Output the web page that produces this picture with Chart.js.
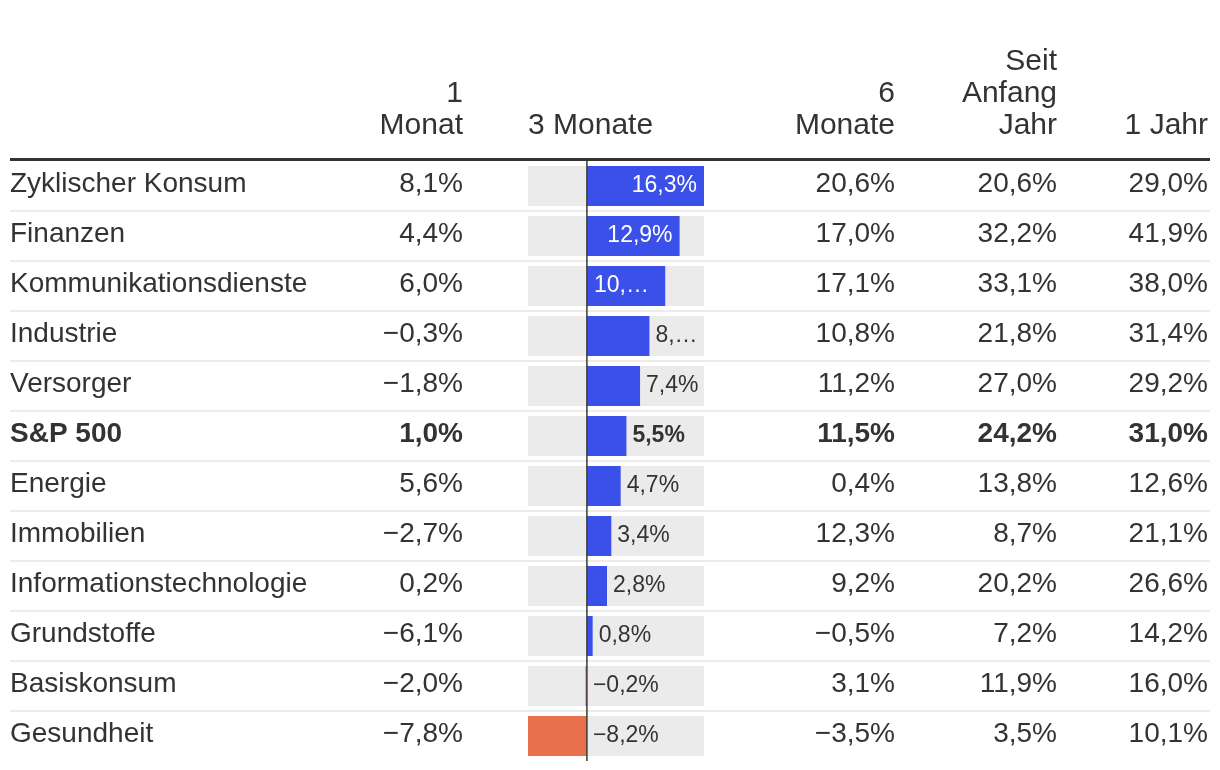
<!DOCTYPE html>
<html>
<head>
<meta charset="utf-8">
<script src="https://cdn.jsdelivr.net/npm/chart.js@4"></script>
<style>
  html, body { margin: 0; padding: 0; background: #fff; }
  canvas { display: block; }
</style>
</head>
<body>
<canvas id="tabelle" width="1220" height="770"></canvas>
<script>
// Sektoren und Renditen (in %)
const sektoren = ['Zyklischer Konsum', 'Finanzen', 'Kommunikationsdienste', 'Industrie', 'Versorger', 'S&P 500',
  'Energie', 'Immobilien', 'Informationstechnologie', 'Grundstoffe', 'Basiskonsum', 'Gesundheit'];
const monat1 = [8.1, 4.4, 6.0, -0.3, -1.8, 1.0, 5.6, -2.7, 0.2, -6.1, -2.0, -7.8];
const monate3 = [16.3, 12.9, 10.9, 8.7, 7.4, 5.5, 4.7, 3.4, 2.8, 0.8, -0.2, -8.2];
const monate6 = [20.6, 17.0, 17.1, 10.8, 11.2, 11.5, 0.4, 12.3, 9.2, -0.5, 3.1, -3.5];
const seitJahresanfang = [20.6, 32.2, 33.1, 21.8, 27.0, 24.2, 13.8, 8.7, 20.2, 7.2, 11.9, 3.5];
const jahr1 = [29.0, 41.9, 38.0, 31.4, 29.2, 31.0, 12.6, 21.1, 26.6, 14.2, 16.0, 10.1];
const kopf = [['1', 'Monat'], ['3 Monate'], ['6', 'Monate'], ['Seit', 'Anfang', 'Jahr'], ['1 Jahr']];
const hervorgehoben = 'S&P 500';

const SCHRIFT = '"Liberation Sans", Arial, Helvetica, sans-serif';
const TEXT = '#333333';
const BLAU = '#3a50e8';
const ORANGE = '#e8704b';

const xMin = Math.min(...monate3);
const xMax = Math.max(...monate3);

function fmt(v) {
  const s = Math.abs(v).toFixed(1).replace('.', ',') + '%';
  return (v < 0 ? '\u2212' : '') + s;
}

// Text kürzen, bis er in die Breite passt
function kuerzen(ctx, text, breite) {
  if (ctx.measureText(text).width <= breite) return text;
  let t = text;
  while (t.length > 1) {
    t = t.slice(0, -1);
    if (ctx.measureText(t + '\u2026').width <= breite) return t + '\u2026';
  }
  return '\u2026';
}

const tabellePlugin = {
  id: 'tabelle',
  beforeDatasetsDraw(chart) {
    const { ctx, chartArea, scales: { y } } = chart;
    ctx.save();
    // Zeilentrenner
    ctx.strokeStyle = '#ececec';
    ctx.lineWidth = 2;
    for (let i = 1; i < sektoren.length; i++) {
      const yy = (y.getPixelForValue(i - 1) + y.getPixelForValue(i)) / 2;
      ctx.beginPath();
      ctx.moveTo(10, yy);
      ctx.lineTo(1210, yy);
      ctx.stroke();
    }
    // Kopflinie
    ctx.strokeStyle = TEXT;
    ctx.lineWidth = 3;
    ctx.beginPath();
    ctx.moveTo(10, chartArea.top - 1.5);
    ctx.lineTo(1210, chartArea.top - 1.5);
    ctx.stroke();
    ctx.restore();
  },
  afterDatasetsDraw(chart) {
    const { ctx, chartArea, scales: { x, y } } = chart;
    const x0 = x.getPixelForValue(0);
    ctx.save();

    // Nulllinie
    ctx.strokeStyle = '#3a3a3a';
    ctx.lineWidth = 1.5;
    ctx.beginPath();
    ctx.moveTo(x0, chartArea.top);
    ctx.lineTo(x0, chartArea.bottom);
    ctx.stroke();

    // Kopfzeilen
    ctx.fillStyle = TEXT;
    ctx.font = '30px ' + SCHRIFT;
    ctx.textBaseline = 'alphabetic';
    const kopfX = [463, chartArea.left, 895, 1057, 1208];
    const kopfAlign = ['right', 'left', 'right', 'right', 'right'];
    kopf.forEach((zeilen, k) => {
      ctx.textAlign = kopfAlign[k];
      zeilen.forEach((z, j) => {
        ctx.fillText(z, kopfX[k], 134 - (zeilen.length - 1 - j) * 32);
      });
    });

    // Zellen
    const spalten = [[monat1, 463], [monate6, 895], [seitJahresanfang, 1057], [jahr1, 1208]];
    ctx.textBaseline = 'alphabetic';
    sektoren.forEach((s, i) => {
      const yy = y.getPixelForValue(i) + 6;
      const fett = s === hervorgehoben ? 'bold ' : '';
      ctx.font = fett + '28px ' + SCHRIFT;
      ctx.fillStyle = TEXT;
      ctx.textAlign = 'left';
      ctx.fillText(s, 10, yy);
      ctx.textAlign = 'right';
      spalten.forEach(([werte, xr]) => ctx.fillText(fmt(werte[i]), xr, yy));

      // Balkenbeschriftung
      const v = monate3[i];
      const label = fmt(v);
      ctx.font = fett + '23px ' + SCHRIFT;
      const w = ctx.measureText(label).width;
      const xe = x.getPixelForValue(v);
      if (v > 0) {
        const innen = xe - x0;
        const aussen = chartArea.right - xe;
        if (w + 20 <= innen) {
          ctx.fillStyle = '#ffffff';
          ctx.textAlign = 'right';
          ctx.fillText(label, xe - 7, yy);
        } else if (innen > aussen * 1.5) {
          ctx.fillStyle = '#ffffff';
          ctx.textAlign = 'left';
          ctx.fillText(kuerzen(ctx, label, innen - 20), x0 + 7, yy);
        } else {
          ctx.fillStyle = TEXT;
          ctx.textAlign = 'left';
          ctx.fillText(kuerzen(ctx, label, aussen - 10), xe + 6, yy);
        }
      } else {
        ctx.fillStyle = TEXT;
        ctx.textAlign = 'left';
        ctx.fillText(kuerzen(ctx, label, chartArea.right - x0 - 10), x0 + 6, yy);
      }
    });
    ctx.restore();
  }
};

new Chart(document.getElementById('tabelle'), {
  type: 'bar',
  data: {
    labels: sektoren,
    datasets: [
      {
        label: '3 Monate',
        data: monate3,
        backgroundColor: monate3.map(v => v < 0 ? ORANGE : BLAU),
        borderWidth: 0,
        barPercentage: 0.8,
        categoryPercentage: 1,
        grouped: false
      },
      {
        label: 'Hintergrund',
        data: monate3.map(() => [xMin, xMax]),
        backgroundColor: '#ebebeb',
        borderWidth: 0,
        barPercentage: 0.8,
        categoryPercentage: 1,
        grouped: false
      }
    ]
  },
  options: {
    indexAxis: 'y',
    responsive: false,
    animation: false,
    devicePixelRatio: 1,
    layout: { padding: { left: 528, right: 516, top: 161, bottom: 9 } },
    scales: {
      x: { display: false, min: xMin, max: xMax },
      y: { display: false }
    },
    plugins: {
      legend: { display: false },
      tooltip: { enabled: false }
    }
  },
  plugins: [tabellePlugin]
});
</script>
</body>
</html>
